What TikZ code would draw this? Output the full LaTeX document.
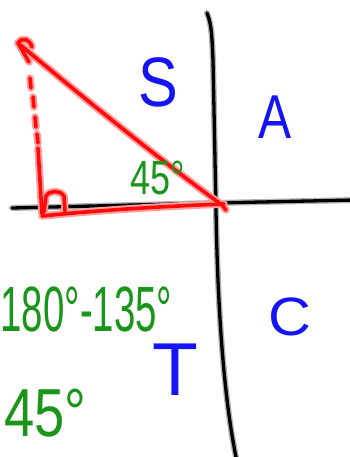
\documentclass[tikz,border=0pt]{standalone}
\usepackage{fontspec}
\setmainfont{Liberation Sans}
\definecolor{pblue}{RGB}{20,20,245}
\definecolor{pgreen}{RGB}{25,150,25}
\definecolor{pred}{RGB}{255,10,10}
\begin{document}
\begin{tikzpicture}[x=1pt,y=-1pt,
  axishalo/.style={line width=6pt,black!30,line cap=round,line join=round},
  axiscore/.style={line width=3.3pt,black,line cap=round,line join=round},
  redhalo/.style={line width=7.5pt,pred!40,line cap=round,line join=round},
  redcore/.style={line width=3.6pt,pred,line cap=round,line join=round},
  quad/.style={text=pblue,inner sep=0pt},
  ang/.style={text=pgreen,inner sep=0pt,transform shape}]
\useasboundingbox (0,0) rectangle (350,457);
\clip (0,0) rectangle (350,457);
\fill[white] (0,0) rectangle (350,457);
% axes
\foreach \s in {axishalo,axiscore}{
  \draw[\s] (207,13) .. controls (212,25) and (212,40) .. (213,60) -- (216,210)
     .. controls (218,330) and (226,410) .. (237,462);
  \draw[\s] (12,208) -- (215,203) -- (355,200);
}
% red triangle
\foreach \s in {redhalo,redcore}{
  \draw[\s] (226,210) -- (222,205) .. controls (160,160) and (80,95) .. (18,43);
  \draw[\s] (29,62) -- (18,43) .. controls (23,36) and (30,40) .. (32,47);
  \draw[\s] (42,216) .. controls (100,210) and (170,206) .. (224,204);
  \draw[\s] (38,148) -- (42,214);
  \draw[\s] (30,78) -- (31,88);
  \draw[\s] (33,97) -- (34,107);
  \draw[\s] (35,117) -- (36,127);
  \draw[\s] (37,134) -- (38,143);
  \draw[\s] (44,212) -- (46,196) .. controls (50,190) and (60,190) .. (64,196) -- (65,211);
}
% quadrant letters
\node[quad,font=\fontsize{70}{70}\selectfont,xscale=0.85,transform shape] (S) at (158,82) {S};
\node[quad,font=\fontsize{62}{62}\selectfont,xscale=0.8,transform shape] (A) at (275,117) {A};
\node[quad,font=\fontsize{54}{54}\selectfont,xscale=1.1,transform shape] (C) at (290,317) {C};
\node[quad,font=\fontsize{75}{75}\selectfont] (T) at (175,370) {T};
% angle labels
\node[ang,anchor=base west,font=\fontsize{48}{48}\selectfont,xscale=0.75] (a45) at (130,194) {45°};
\node[ang,anchor=base west,font=\fontsize{64}{64}\selectfont,xscale=0.6] (calc) at (0.5,331) {180°-135°};
\node[ang,anchor=base west,font=\fontsize{68}{68}\selectfont,xscale=0.8] (res) at (4,436) {45°};
\end{tikzpicture}
\end{document}
